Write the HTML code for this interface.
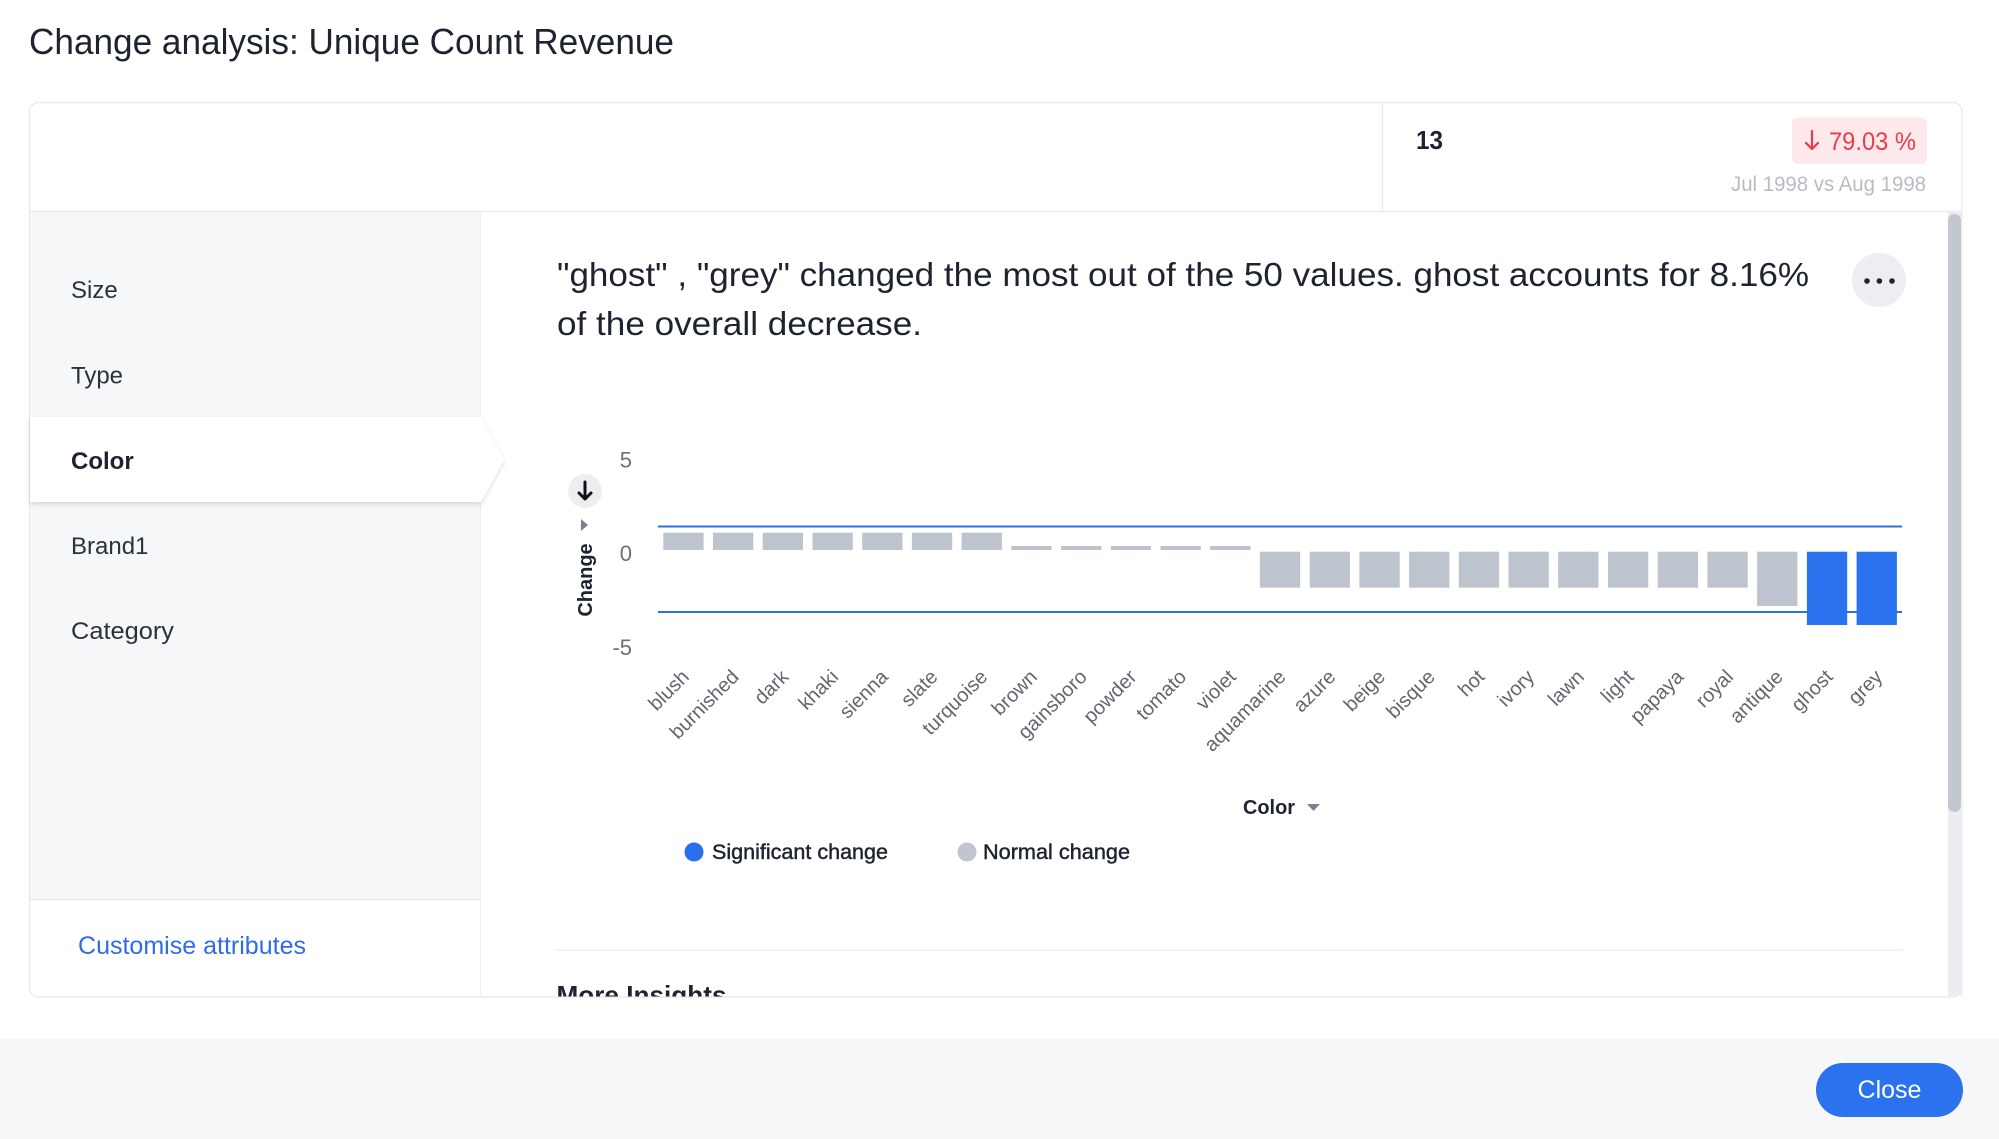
<!DOCTYPE html>
<html>
<head>
<meta charset="utf-8">
<style>
  html, body { margin:0; padding:0; background:#ffffff; }
  body { width:1999px; height:1139px; overflow:hidden; }
  svg { display:block; }
  text { font-family: "Liberation Sans", Arial, sans-serif; }
</style>
</head>
<body>
<svg width="1999" height="1139" viewBox="0 0 1999 1139" xmlns="http://www.w3.org/2000/svg">
  <defs>
    <filter id="sh" x="-5%" y="-20%" width="110%" height="160%">
      <feDropShadow dx="0" dy="2" stdDeviation="2" flood-color="#000" flood-opacity="0.14"/>
    </filter>
    <clipPath id="mainclip"><rect x="481" y="212" width="1467" height="784.5"/></clipPath>
  </defs>

  <rect x="0" y="0" width="1999" height="1139" fill="#ffffff"/>

  <!-- Title -->
  <text x="29" y="54" font-size="36" fill="#1d2330" textLength="645" lengthAdjust="spacingAndGlyphs">Change analysis: Unique Count Revenue</text>

  <!-- Card -->
  <rect x="29.5" y="102.5" width="1932.5" height="894.5" rx="9" fill="#ffffff" stroke="#e6e8ec" stroke-width="1.2"/>

  <!-- Header row -->
  <line x1="30" y1="211.5" x2="1962" y2="211.5" stroke="#e8eaee" stroke-width="1.2"/>
  <line x1="1382.5" y1="103" x2="1382.5" y2="211" stroke="#e8eaee" stroke-width="1.2"/>
  <text x="1416" y="149" font-size="26" font-weight="bold" fill="#1d232f" textLength="27" lengthAdjust="spacingAndGlyphs">13</text>
  <rect x="1792" y="117.5" width="135" height="46.5" rx="6" fill="#fde9eb"/>
  <path d="M1812 131 L1812 149 M1806 143 L1812 149 L1818 143" fill="none" stroke="#ec3a4b" stroke-width="2.2" stroke-linecap="round" stroke-linejoin="round"/>
  <text x="1829" y="150" font-size="25" fill="#ec3a4b" textLength="87" lengthAdjust="spacingAndGlyphs">79.03 %</text>
  <text x="1926" y="191" font-size="21" fill="#b7bcc5" text-anchor="end" textLength="195" lengthAdjust="spacingAndGlyphs">Jul 1998 vs Aug 1998</text>

  <!-- Sidebar -->
  <rect x="30" y="212" width="450" height="687" fill="#f6f7f9"/>
  <line x1="30" y1="899.5" x2="480" y2="899.5" stroke="#e8eaee" stroke-width="1.5"/>
  <line x1="480.5" y1="212" x2="480.5" y2="996" stroke="#eceef1" stroke-width="1.2"/>
  <polygon points="30,417 481,417 504,460 481,502 30,502" fill="#ffffff" filter="url(#sh)"/>
  <text x="71" y="298" font-size="24" fill="#2b313e">Size</text>
  <text x="71" y="383.5" font-size="24" fill="#2b313e">Type</text>
  <text x="71" y="469" font-size="24" font-weight="bold" fill="#1d232f">Color</text>
  <text x="71" y="554" font-size="24" fill="#2b313e">Brand1</text>
  <text x="71" y="639" font-size="24" fill="#2b313e" textLength="103" lengthAdjust="spacingAndGlyphs">Category</text>
  <text x="78" y="954" font-size="25" fill="#2e6de6" textLength="228" lengthAdjust="spacingAndGlyphs">Customise attributes</text>

  <!-- Scrollbar -->
  <rect x="1948" y="212" width="14" height="784" fill="#ecedf1"/>
  <rect x="1948" y="214" width="13" height="598" rx="6.5" fill="#c2c7d0"/>

  <g clip-path="url(#mainclip)">
    <!-- Insight text -->
    <text x="557" y="286" font-size="33" fill="#1d232f" textLength="1252" lengthAdjust="spacingAndGlyphs">"ghost" , "grey" changed the most out of the 50 values. ghost accounts for 8.16%</text>
    <text x="557" y="335" font-size="33" fill="#1d232f" textLength="365" lengthAdjust="spacingAndGlyphs">of the overall decrease.</text>

    <!-- more button -->
    <circle cx="1879" cy="280" r="27" fill="#eceef2"/>
    <circle cx="1867" cy="281" r="2.8" fill="#1d232f"/>
    <circle cx="1879.4" cy="281" r="2.8" fill="#1d232f"/>
    <circle cx="1892" cy="281" r="2.8" fill="#1d232f"/>

    <!-- Y axis -->
    <text x="632" y="467.5" font-size="22" fill="#6b7079" text-anchor="end">5</text>
    <text x="632" y="561" font-size="22" fill="#6b7079" text-anchor="end">0</text>
    <text x="632" y="655" font-size="22" fill="#6b7079" text-anchor="end">-5</text>
    <circle cx="585" cy="491" r="17" fill="#eceef1"/>
    <path d="M585 482 L585 499 M579 493 L585 499 L591 493" fill="none" stroke="#111" stroke-width="3" stroke-linecap="round" stroke-linejoin="round"/>
    <polygon points="581,519 588,525 581,531" fill="#7b8190"/>
    <text transform="translate(592,580) rotate(-90)" font-size="20" font-weight="bold" fill="#1d232f" text-anchor="middle">Change</text>

    <!-- Threshold lines -->
    <line x1="658" y1="526.5" x2="1902" y2="526.5" stroke="#2e6fef" stroke-width="2"/>
    <line x1="658" y1="612" x2="1902" y2="612" stroke="#2e6fef" stroke-width="2"/>

    <!-- Bars -->
    <g fill="#bec4ce">
      <rect x="663.3" y="532.7" width="40.3" height="17.3"/>
      <rect x="713.0" y="532.7" width="40.3" height="17.3"/>
      <rect x="762.7" y="532.7" width="40.3" height="17.3"/>
      <rect x="812.5" y="532.7" width="40.3" height="17.3"/>
      <rect x="862.2" y="532.7" width="40.3" height="17.3"/>
      <rect x="911.9" y="532.7" width="40.3" height="17.3"/>
      <rect x="961.6" y="532.7" width="40.3" height="17.3"/>
      <rect x="1011.3" y="546" width="40.3" height="4"/>
      <rect x="1061.1" y="546" width="40.3" height="4"/>
      <rect x="1110.8" y="546" width="40.3" height="4"/>
      <rect x="1160.5" y="546" width="40.3" height="4"/>
      <rect x="1210.2" y="546" width="40.3" height="4"/>
      <rect x="1259.9" y="551.7" width="40.3" height="36"/>
      <rect x="1309.7" y="551.7" width="40.3" height="36"/>
      <rect x="1359.4" y="551.7" width="40.3" height="36"/>
      <rect x="1409.1" y="551.7" width="40.3" height="36"/>
      <rect x="1458.8" y="551.7" width="40.3" height="36"/>
      <rect x="1508.5" y="551.7" width="40.3" height="36"/>
      <rect x="1558.2" y="551.7" width="40.3" height="36"/>
      <rect x="1608.0" y="551.7" width="40.3" height="36"/>
      <rect x="1657.7" y="551.7" width="40.3" height="36"/>
      <rect x="1707.4" y="551.7" width="40.3" height="36"/>
      <rect x="1757.1" y="551.7" width="40.3" height="54.3"/>
    </g>
    <g fill="#2a72ee">
      <rect x="1806.9" y="551.7" width="40.3" height="73.3"/>
      <rect x="1856.6" y="551.7" width="40.3" height="73.3"/>
    </g>

    <!-- X labels -->
    <g font-size="20" fill="#62676f" text-anchor="end">
      <text transform="translate(690.3,678) rotate(-45)">blush</text>
      <text transform="translate(740,678) rotate(-45)">burnished</text>
      <text transform="translate(789.7,678) rotate(-45)">dark</text>
      <text transform="translate(839.5,678) rotate(-45)">khaki</text>
      <text transform="translate(889.2,678) rotate(-45)">sienna</text>
      <text transform="translate(938.9,678) rotate(-45)">slate</text>
      <text transform="translate(988.6,678) rotate(-45)">turquoise</text>
      <text transform="translate(1038.3,678) rotate(-45)">brown</text>
      <text transform="translate(1088.1,678) rotate(-45)">gainsboro</text>
      <text transform="translate(1137.8,678) rotate(-45)">powder</text>
      <text transform="translate(1187.5,678) rotate(-45)">tomato</text>
      <text transform="translate(1237.2,678) rotate(-45)">violet</text>
      <text transform="translate(1286.9,678) rotate(-45)">aquamarine</text>
      <text transform="translate(1336.7,678) rotate(-45)">azure</text>
      <text transform="translate(1386.4,678) rotate(-45)">beige</text>
      <text transform="translate(1436.1,678) rotate(-45)">bisque</text>
      <text transform="translate(1485.8,678) rotate(-45)">hot</text>
      <text transform="translate(1535.5,678) rotate(-45)">ivory</text>
      <text transform="translate(1585.2,678) rotate(-45)">lawn</text>
      <text transform="translate(1635,678) rotate(-45)">light</text>
      <text transform="translate(1684.7,678) rotate(-45)">papaya</text>
      <text transform="translate(1734.4,678) rotate(-45)">royal</text>
      <text transform="translate(1784.1,678) rotate(-45)">antique</text>
      <text transform="translate(1833.9,678) rotate(-45)">ghost</text>
      <text transform="translate(1883.6,678) rotate(-45)">grey</text>
    </g>

    <!-- X axis title -->
    <text x="1243" y="814" font-size="20" font-weight="bold" fill="#1d232f" textLength="52" lengthAdjust="spacingAndGlyphs">Color</text>
    <polygon points="1307,804 1320,804 1313.5,811" fill="#7b8190"/>

    <!-- Legend -->
    <circle cx="694" cy="852" r="9.5" fill="#2a6fed"/>
    <text x="712" y="859" font-size="21.5" fill="#1d232f" stroke="#1d232f" stroke-width="0.45" textLength="176" lengthAdjust="spacingAndGlyphs">Significant change</text>
    <circle cx="967" cy="852" r="9.5" fill="#c0c5ce"/>
    <text x="983" y="859" font-size="21.5" fill="#1d232f" stroke="#1d232f" stroke-width="0.45" textLength="147" lengthAdjust="spacingAndGlyphs">Normal change</text>

    <!-- Separator and More Insights -->
    <line x1="556" y1="950" x2="1903" y2="950" stroke="#eceef1" stroke-width="1.6"/>
    <text x="556.5" y="1004" font-size="26" font-weight="bold" fill="#1d232f" textLength="170" lengthAdjust="spacingAndGlyphs">More Insights</text>
  </g>

  <!-- Footer -->
  <rect x="0" y="1039" width="1999" height="100" fill="#f6f7f9"/>
  <rect x="1816" y="1063" width="147" height="54" rx="27" fill="#2a72ee"/>
  <text x="1889.5" y="1098" font-size="25" fill="#ffffff" text-anchor="middle">Close</text>
</svg>
</body>
</html>
